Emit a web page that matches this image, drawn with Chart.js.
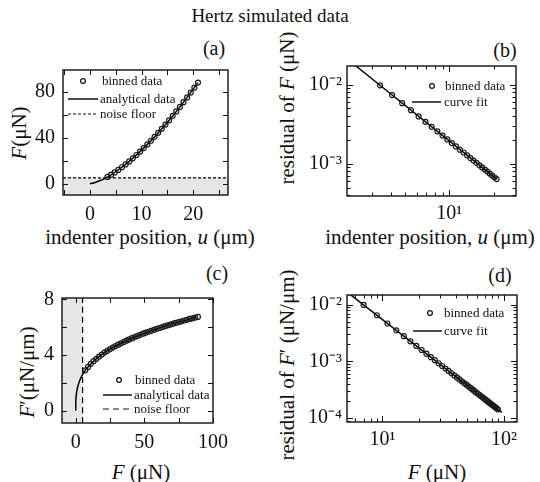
<!DOCTYPE html>
<html>
<head>
<meta charset="utf-8">
<script src="https://cdn.jsdelivr.net/npm/chart.js@4.4.0/dist/chart.umd.min.js"></script>
<style>
  body { margin: 0; background: #fff; }
  #fig { position: relative; width: 540px; height: 482px; overflow: hidden; font-family: "Liberation Serif", serif; color: #111; }
  canvas { position: absolute; }
  .t { position: absolute; white-space: nowrap; line-height: 1; transform: translate(-50%, -50%); }
  .v { transform: translate(-50%, -50%) rotate(-90deg); }
</style>
</head>
<body>
<div id="fig">
  <div class="t" style="left:270px;top:15px;font-size:19px">Hertz simulated data</div>
  <div class="t" style="left:214px;top:48px;font-size:20px">(a)</div>
  <div class="t" style="left:505px;top:50px;font-size:20px">(b)</div>
  <div class="t" style="left:217px;top:273px;font-size:20px">(c)</div>
  <div class="t" style="left:500px;top:275px;font-size:20px">(d)</div>

  <div class="t" style="left:150px;top:237px;font-size:21px">indenter position, <i>u</i> (μm)</div>
  <div class="t v" style="left:19px;top:133px;font-size:21px"><i>F</i>(μN)</div>
  <div class="t" style="left:430px;top:237px;font-size:21px">indenter position, <i>u</i> (μm)</div>
  <div class="t v" style="left:287px;top:108px;font-size:21px">residual of <i>F</i> (μN)</div>
  <div class="t" style="left:141px;top:472px;font-size:21px"><i>F</i> (μN)</div>
  <div class="t v" style="left:27px;top:372px;font-size:21px"><i>F</i>′(μN/μm)</div>
  <div class="t" style="left:437px;top:472px;font-size:21px"><i>F</i> (μN)</div>
  <div class="t v" style="left:287px;top:365px;font-size:21px">residual of <i>F</i>′ (μN/μm)</div>

  <canvas id="ca" width="201" height="175" style="left:33px;top:50px"></canvas>
  <canvas id="cb" width="222" height="181" style="left:302px;top:49px"></canvas>
  <canvas id="cc" width="204" height="175" style="left:32px;top:278px"></canvas>
  <canvas id="cd" width="223" height="178" style="left:302px;top:278px"></canvas>
</div>
<script>
// (a) force vs indenter position
const uBinned = [3.4, 4.1, 4.8, 5.5, 6.2, 6.9, 7.6, 8.3, 9.0, 9.7, 10.4, 11.1, 11.8, 12.5, 13.2, 13.9, 14.6, 15.3, 16.0, 16.7, 17.4, 18.1, 18.8, 19.5, 20.2, 20.9];
const fBinned = [5.8, 7.7, 9.7, 11.9, 14.2, 16.7, 19.3, 22.0, 24.9, 27.8, 30.9, 34.1, 37.3, 40.7, 44.2, 47.7, 51.4, 55.1, 59.0, 62.9, 66.8, 70.9, 75.1, 79.3, 83.6, 88.0];
const uModel = [0, 0.5, 1, 2, 3, 4, 6, 8, 10, 12, 14, 16, 18, 20.9];
const fModel = [0, 0.33, 0.92, 2.6, 4.79, 7.37, 13.54, 20.84, 29.13, 38.28, 48.24, 58.95, 70.33, 88.0];
const noiseFloor = 5;

// (b) residual of F
const residF = [0.00979, 0.00739, 0.00583, 0.00476, 0.00397, 0.00339, 0.00293, 0.00257, 0.00227, 0.00203, 0.00183, 0.00166, 0.00151, 0.00139, 0.00128, 0.00118, 0.0011, 0.00103, 0.000958, 0.000899, 0.000845, 0.000797, 0.000753, 0.000712, 0.000676, 0.000642];
const uFit = [2, 21];
const residFFit = [0.0217, 0.00064];

// (c) stiffness vs force
const fStiff = [7, 9, 11, 13, 15, 17, 19, 21, 23, 25, 27, 29, 31, 33, 35, 37, 39, 41, 43, 45, 47, 49, 51, 53, 55, 57, 59, 61, 63, 65, 67, 69, 71, 73, 75, 77, 79, 81, 83, 85, 87, 89];
const stiffBinned = [2.89, 3.14, 3.36, 3.55, 3.72, 3.88, 4.03, 4.17, 4.29, 4.42, 4.53, 4.64, 4.74, 4.84, 4.94, 5.03, 5.12, 5.21, 5.29, 5.37, 5.45, 5.53, 5.6, 5.67, 5.74, 5.81, 5.88, 5.94, 6.01, 6.07, 6.13, 6.19, 6.25, 6.31, 6.37, 6.42, 6.48, 6.53, 6.59, 6.64, 6.69, 6.74];
const fStiffModel = [0, 0.02, 0.1, 0.3, 0.6, 1, 1.5, 2, 3, 4, 6, 8, 12, 16, 24, 32, 44, 56, 70, 88];
const stiffModel = [0, 0.41, 0.7, 1.01, 1.27, 1.51, 1.73, 1.9, 2.18, 2.4, 2.74, 3.02, 3.46, 3.81, 4.36, 4.79, 5.33, 5.78, 6.22, 6.72];

// (d) residual of F'
const residStiff = [0.00993, 0.00653, 0.00467, 0.00354, 0.00279, 0.00226, 0.00188, 0.00159, 0.00137, 0.00119, 0.00105, 0.000929, 0.000831, 0.000749, 0.000679, 0.000619, 0.000567, 0.000522, 0.000482, 0.000447, 0.000415, 0.000388, 0.000363, 0.00034, 0.00032, 0.000301, 0.000284, 0.000269, 0.000255, 0.000242, 0.00023, 0.000219, 0.000209, 0.000199, 0.000191, 0.000182, 0.000175, 0.000168, 0.000161, 0.000155, 0.000149, 0.000143];
const fFit = [5, 96];
const residStiffFit = [0.0174, 0.000126];

// ticks
const aXTicks = [-5, 0, 5, 10, 15, 20, 25], aXLabels = [0, 10, 20];
const aYTicks = [0, 20, 40, 60, 80], aYLabels = [0, 40, 80];
const cXTicks = [0, 25, 50, 75, 100], cXLabels = [0, 50, 100];
const cYTicks = [0, 2, 4, 6, 8], cYLabels = [0, 4, 8];
const bXLabels = [10], bYLabels = [0.01, 0.001];
const dXLabels = [10, 100], dYLabels = [0.01, 0.001, 0.0001];

const FONT = 'Liberation Serif';
const INK = '#111';
const pts = (xs, ys) => xs.map((x, i) => ({ x: x, y: ys[i] }));

function logMarks(min, max) {
  const out = [];
  for (let e = Math.floor(Math.log10(min)); e <= Math.ceil(Math.log10(max)); e++) {
    for (let k = 1; k <= 9; k++) {
      const v = k * Math.pow(10, e);
      if (v >= min && v <= max) out.push({ v: v, major: k === 1 });
    }
  }
  return out;
}

const sup = { '-': '⁻', '0': '⁰', '1': '¹', '2': '²', '3': '³', '4': '⁴' };
function powLabel(v) {
  const e = String(Math.round(Math.log10(v)));
  return '10' + e.split('').map(c => sup[c]).join('');
}

const boxTicks = {
  id: 'boxTicks',
  beforeDatasetsDraw(chart, args, o) {
    const { ctx, chartArea: a, scales: { x, y } } = chart;
    ctx.save();
    ctx.fillStyle = '#e6e6e6';
    if (o.shadeBelow != null) {
      const py = y.getPixelForValue(o.shadeBelow);
      ctx.fillRect(a.left, py, a.width, a.bottom - py);
    }
    if (o.shadeLeft != null) {
      const px = x.getPixelForValue(o.shadeLeft);
      ctx.fillRect(a.left, a.top, px - a.left, a.height);
    }
    ctx.restore();
  },
  afterDraw(chart, args, o) {
    const { ctx, chartArea: a, scales: { x, y } } = chart;
    const xm = o.xLog ? logMarks(x.min, x.max) : o.xTicks.map(v => ({ v: v, major: true }));
    const ym = o.yLog ? logMarks(y.min, y.max) : o.yTicks.map(v => ({ v: v, major: true }));
    ctx.save();
    ctx.strokeStyle = INK;
    ctx.lineWidth = 1;
    ctx.beginPath();
    xm.forEach(m => {
      const px = Math.round(x.getPixelForValue(m.v)) + 0.5;
      const len = o.xLog ? (m.major ? 6 : 3.5) : 5;
      ctx.moveTo(px, a.bottom); ctx.lineTo(px, a.bottom - len);
      ctx.moveTo(px, a.top); ctx.lineTo(px, a.top + len);
    });
    ym.forEach(m => {
      const py = Math.round(y.getPixelForValue(m.v)) + 0.5;
      const len = o.yLog ? (m.major ? 6 : 3.5) : 5;
      ctx.moveTo(a.left, py); ctx.lineTo(a.left + len, py);
      ctx.moveTo(a.right, py); ctx.lineTo(a.right - len, py);
    });
    ctx.stroke();
    ctx.lineWidth = 1.4;
    ctx.strokeRect(a.left, a.top, a.width, a.height);

    // legend
    ctx.font = '13px "' + FONT + '"';
    ctx.textBaseline = 'middle';
    ctx.fillStyle = INK;
    (o.legend || []).forEach(it => {
      const ly = a.top + it.y;
      ctx.beginPath();
      if (it.kind === 'circle') {
        ctx.lineWidth = 1.2;
        ctx.setLineDash([]);
        ctx.arc(a.left + it.x, ly, 2.4, 0, Math.PI * 2);
      } else {
        ctx.lineWidth = it.kind === 'line' ? 1.5 : 1.2;
        ctx.setLineDash(it.dash || []);
        ctx.moveTo(a.left + it.x, ly);
        ctx.lineTo(a.left + it.x2, ly);
      }
      ctx.stroke();
      ctx.setLineDash([]);
      ctx.fillText(it.text, a.left + it.tx, ly + 0.5);
    });
    ctx.restore();
  }
};

function binned(data) {
  return { data: data, showLine: false, pointStyle: 'circle', pointRadius: 2.5, pointBorderWidth: 1.2,
    pointBorderColor: '#1a1a1a', pointBackgroundColor: 'rgba(0,0,0,0)', order: 0 };
}
function curve(data, dash, width) {
  return { data: data, showLine: true, pointRadius: 0, borderColor: '#000', borderWidth: width || 1.5,
    borderDash: dash || [], cubicInterpolationMode: 'monotone', fill: false, order: 1 };
}

function axis(kind, min, max, labels, fmt, pinned, isX, pad) {
  return {
    type: kind, min: min, max: max,
    grid: { display: false, drawTicks: false },
    border: { display: false },
    afterBuildTicks: s => { s.ticks = labels.map(v => ({ value: v })); },
    afterFit: s => { if (isX) s.height = pinned; else s.width = pinned; },
    ticks: { padding: pad, color: INK, font: { family: FONT, size: 20 }, maxRotation: 0, autoSkip: false, callback: fmt }
  };
}

function panel(id, datasets, xs, ys, plug, padRight) {
  new Chart(document.getElementById(id), {
    type: 'scatter',
    data: { datasets: datasets },
    options: {
      responsive: false, animation: false, events: [],
      layout: { padding: { top: 14, right: padRight, left: 0, bottom: 0 } },
      scales: { x: xs, y: ys },
      plugins: { legend: { display: false }, tooltip: { enabled: false }, boxTicks: plug }
    },
    plugins: [boxTicks]
  });
}

const plain = v => String(v);

// (a)
panel('ca', [
  binned(pts(uBinned, fBinned)),
  curve(pts(uModel, fModel)),
  curve([{ x: -5.2, y: noiseFloor }, { x: 26.7, y: noiseFloor }], [3, 2], 1.2)
], axis('linear', -5.2, 26.7, aXLabels, plain, 30, true, 8),
   axis('linear', -10, 99, aYLabels, plain, 30, false, 8),
   { xTicks: aXTicks, yTicks: aYTicks, shadeBelow: noiseFloor, legend: [
     { kind: 'circle', x: 20, y: 11, tx: 39, text: 'binned data' },
     { kind: 'line', x: 5, x2: 35, y: 29, tx: 37, text: 'analytical data' },
     { kind: 'dash', dash: [3, 2], x: 5, x2: 35, y: 44, tx: 37, text: 'noise floor' }
   ] }, 6);

// (b)
panel('cb', [
  binned(pts(uBinned, residF)),
  curve(pts(uFit, residFFit))
], axis('logarithmic', 2.03, 28.3, bXLabels, powLabel, 34, true, 6),
   axis('logarithmic', 0.000392, 0.0172, bYLabels, powLabel, 45, false, 5),
   { xLog: true, yLog: true, legend: [
     { kind: 'circle', x: 85, y: 20, tx: 98, text: 'binned data' },
     { kind: 'line', x: 65, x2: 94, y: 36, tx: 97, text: 'curve fit' }
   ] }, 8);

// (c)
panel('cc', [
  binned(pts(fStiff, stiffBinned)),
  curve(pts(fStiffModel, stiffModel)),
  curve([{ x: noiseFloor, y: -0.9 }, { x: noiseFloor, y: 8.1 }], [6, 4], 1.2)
], axis('linear', -10, 100, cXLabels, plain, 30, true, 8),
   axis('linear', -0.9, 8.1, cYLabels, plain, 30, false, 8),
   { xTicks: cXTicks, yTicks: cYTicks, shadeLeft: noiseFloor, legend: [
     { kind: 'circle', x: 57, y: 82, tx: 73, text: 'binned data' },
     { kind: 'line', x: 41, x2: 70, y: 97, tx: 72, text: 'analytical data' },
     { kind: 'dash', dash: [6, 4], x: 41, x2: 70, y: 111, tx: 72, text: 'noise floor' }
   ] }, 8);

// (d)
panel('cd', [
  binned(pts(fStiff, residStiff)),
  curve(pts(fFit, residStiffFit))
], axis('logarithmic', 5.11, 128, dXLabels, powLabel, 34, true, 6),
   axis('logarithmic', 0.0000853, 0.01487, dYLabels, powLabel, 45, false, 5),
   { xLog: true, yLog: true, legend: [
     { kind: 'circle', x: 83, y: 18, tx: 97, text: 'binned data' },
     { kind: 'line', x: 66, x2: 95, y: 36, tx: 97, text: 'curve fit' }
   ] }, 8);
</script>
</body>
</html>
